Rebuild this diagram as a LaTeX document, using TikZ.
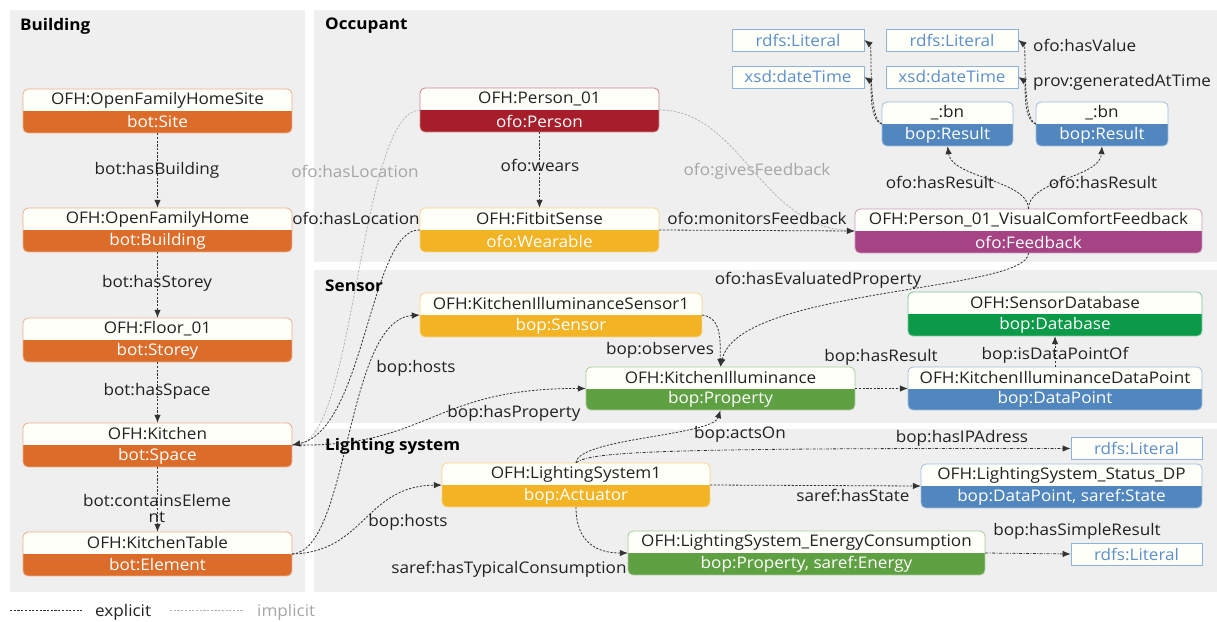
\documentclass[tikz,border=0pt]{standalone}
\usepackage{fontspec}
\setmainfont{Open Sans}[FakeStretch=1.07]
\usetikzlibrary{arrows.meta}
\definecolor{panel}{HTML}{EFEFEF}
\definecolor{topfill}{HTML}{FFFFFA}
\definecolor{botc}{HTML}{DC6C2A}
\definecolor{perc}{HTML}{A61E2A}
\definecolor{yelc}{HTML}{F2B324}
\definecolor{purc}{HTML}{A54385}
\definecolor{propc}{HTML}{5FA043}
\definecolor{dbc}{HTML}{0A9A48}
\definecolor{bluec}{HTML}{5187BE}
\definecolor{littext}{HTML}{5C8FCB}
\definecolor{litborder}{HTML}{8FB4DC}
\definecolor{edgec}{HTML}{333333}
\definecolor{implc}{HTML}{B4B4B4}
\definecolor{impltext}{HTML}{A6A6A6}
\definecolor{txt}{HTML}{222222}
\newcommand{\obox}[8]{%
  \pgfmathsetmacro{\oboxcx}{(#2+#4)/2}%
  \pgfmathsetmacro{\oboxcy}{(#3+#5)/2}%
  \pgfmathsetmacro{\oboxw}{#4-#2}%
  \pgfmathsetmacro{\oboxh}{#5-#3}%
  \node[inner sep=0pt, minimum width=\oboxw pt, minimum height=\oboxh pt] (#1) at (\oboxcx,\oboxcy) {};
  \begin{scope}
    \clip[rounded corners=5pt] (#2,#3) rectangle (#4,#5);
    \fill[topfill] (#2,#3) rectangle (#4,\oboxcy);
    \fill[#6] (#2,\oboxcy) rectangle (#4,#5);
  \end{scope}
  \draw[#6!55!white, rounded corners=5pt, line width=0.8pt] (#2,#3) rectangle (#4,#5);
  \node[toptext] at (\oboxcx,{\oboxcy-11}) {#7};
  \node[bottext] at (\oboxcx,{\oboxcy+11}) {#8};
}
\tikzset{
  toptext/.style={text=txt, font=\fontsize{16}{18}\selectfont, inner sep=0pt},
  bottext/.style={text=white, font=\fontsize{16}{18}\selectfont, inner sep=0pt},
  lit/.style={draw=litborder, fill=topfill, line width=0.8pt, text=littext, font=\fontsize{16}{18}\selectfont, inner sep=0pt},
  lbl/.style={text=txt, font=\fontsize{16}{18}\selectfont, inner sep=1pt},
  glbl/.style={text=impltext, font=\fontsize{16}{18}\selectfont, inner sep=1pt},
  ttl/.style={text=black, font=\fontsize{16}{18}\selectfont\bfseries, anchor=west, inner sep=0pt},
  exp/.style={draw=edgec, line width=0.8pt, dash pattern=on 2.2pt off 1.5pt, -{Latex[length=8pt,width=6.5pt]}},
  impl/.style={draw=implc, line width=0.8pt, dash pattern=on 2.2pt off 1.5pt, -{Latex[length=8pt,width=6.5pt]}},
  dd/.style={draw=edgec, line width=0.8pt, dash pattern=on 3pt off 1.5pt on 0.8pt off 1.5pt, -{Latex[length=8pt,width=6.5pt]}},
}
\begin{document}
\begin{tikzpicture}[x=1pt,y=-1pt]
\useasboundingbox (0,0) rectangle (1217,621);
\fill[white] (0,0) rectangle (1217,621);
% panels
\fill[panel] (10,10) rectangle (305,592);
\fill[panel] (314,10) rectangle (1217,262);
\fill[panel] (314,270) rectangle (1217,423);
\fill[panel] (314,429) rectangle (1217,592);
\node[ttl] (tb) at (20,26) {Building};
\node[ttl] (to) at (325,26) {Occupant};
\node[ttl] (ts) at (325,286) {Sensor};
\node[ttl] (tl) at (325,446) {Lighting system};

% building nodes
\obox{site}{23}{89}{292}{133}{botc}{OFH:OpenFamilyHomeSite}{bot:Site}
\obox{bldg}{23}{208}{292}{252}{botc}{OFH:OpenFamilyHome}{bot:Building}
\obox{floor}{23}{318}{292}{362}{botc}{OFH:Floor\_01}{bot:Storey}
\obox{kitchen}{23}{423}{292}{467}{botc}{OFH:Kitchen}{bot:Space}
\obox{table}{23}{532}{292}{576}{botc}{OFH:KitchenTable}{bot:Element}

% occupant nodes
\obox{person}{420}{88}{659}{132}{perc}{OFH:Person\_01}{ofo:Person}
\obox{fit}{420}{208}{659}{252}{yelc}{OFH:FitbitSense}{ofo:Wearable}
\obox{fb}{855}{209}{1202}{253}{purc}{OFH:Person\_01\_VisualComfortFeedback}{ofo:Feedback}
\obox{bna}{882}{102}{1013}{146}{bluec}{\_:bn}{bop:Result}
\obox{bnb}{1036}{102}{1168}{146}{bluec}{\_:bn}{bop:Result}
\node[lit, minimum width=132pt, minimum height=22pt] (lita) at (798,40) {rdfs:Literal};
\node[lit, minimum width=132pt, minimum height=22pt] (litb) at (952,40) {rdfs:Literal};
\node[lit, minimum width=132pt, minimum height=22pt] (dta) at (798,77) {xsd:dateTime};
\node[lit, minimum width=132pt, minimum height=22pt] (dtb) at (952,77) {xsd:dateTime};

% sensor nodes
\obox{sensor}{420}{293}{702}{337}{yelc}{OFH:KitchenIlluminanceSensor1}{bop:Sensor}
\obox{kill}{586}{367}{855}{410}{propc}{OFH:KitchenIlluminance}{bop:Property}
\obox{db}{908}{292}{1202}{336}{dbc}{OFH:SensorDatabase}{bop:Database}
\obox{dp}{908}{367}{1202}{410}{bluec}{OFH:KitchenIlluminanceDataPoint}{bop:DataPoint}

% lighting nodes
\obox{ls}{442}{463}{710}{507}{yelc}{OFH:LightingSystem1}{bop:Actuator}
\obox{status}{921}{464}{1202}{508}{bluec}{OFH:LightingSystem\_Status\_DP}{bop:DataPoint, saref:State}
\obox{energy}{628}{531}{985}{575}{propc}{OFH:LightingSystem\_EnergyConsumption}{bop:Property, saref:Energy}
\node[lit, minimum width=131pt, minimum height=22pt] (litip) at (1136.5,448.5) {rdfs:Literal};
\node[lit, minimum width=131pt, minimum height=22pt] (litsr) at (1136.5,554) {rdfs:Literal};

% implicit edges
\draw[impl] (person.west) .. controls (360,112) and (355,435) .. (kitchen.east);
\draw[impl] (person.east) .. controls (740,110) and (760,225) .. (fb.west);

% building chain
\draw[exp] (site.south) -- (bldg.north);
\draw[exp] (bldg.south) -- (floor.north);
\draw[exp] (floor.south) -- (kitchen.north);
\draw[exp] (kitchen.south) -- (table.north);

% occupant edges
\draw[exp] (person.south) -- (fit.north);
\draw[exp] (fit.east) -- (fb.west);
\draw[exp] (fit.west) .. controls (370,228) and (365,430) .. (kitchen.east);
\draw[exp] (fb.north) .. controls (1028,180) and (952,178) .. (bna.south);
\draw[exp] (fb.north) .. controls (1028,180) and (1100,178) .. (bnb.south);
\draw[exp] (bna.west) .. controls (868,120) and (872,46) .. (lita.east);
\draw[exp] (bna.west) .. controls (868,120) and (872,82) .. (dta.east);
\draw[exp] (bnb.west) .. controls (1022,120) and (1026,46) .. (litb.east);
\draw[exp] (bnb.west) .. controls (1022,120) and (1026,82) .. (dtb.east);

% sensor edges
\draw[exp] (table.east) .. controls (350,550) and (345,320) .. (sensor.west);
\draw[exp] (kitchen.east) .. controls (430,448) and (430,388) .. (kill.west);
\draw[exp] (sensor.east) .. controls (722,318) and (720,340) .. (kill.north);
\draw[exp] (fb.south) .. controls (1027,292) and (738,288) .. (kill.north);
\draw[exp] (kill.east) -- (dp.west);
\draw[exp] (dp.north) -- (db.south);

% lighting edges
\draw[exp] (table.east) .. controls (365,552) and (365,486) .. (ls.west);
\draw[exp] (ls.north) .. controls (578,438) and (712,436) .. (kill.south);
\draw[dd] (ls.north) .. controls (590,452) and (650,448) .. (litip.west);
\draw[exp] (ls.east) -- (status.west);
\draw[exp] (ls.south) .. controls (576,545) and (600,553) .. (energy.west);
\draw[dd] (energy.east) -- (litsr.west);

% labels
\node[lbl] (l1) at (157,170) {bot:hasBuilding};
\node[lbl] (l2) at (157,283) {bot:hasStorey};
\node[lbl] (l3) at (157,391) {bot:hasSpace};
\node[lbl, align=center] (l4) at (157,508) {bot:containsEleme\\[-2pt]nt};
\node[glbl] (l5) at (355,171) {ofo:hasLocation};
\node[lbl] (l6) at (356,218) {ofo:hasLocation};
\node[lbl] (l7) at (540,165) {ofo:wears};
\node[glbl] (l8) at (757,171) {ofo:givesFeedback};
\node[lbl] (l9) at (757,218) {ofo:monitorsFeedback};
\node[lbl] (l10) at (940,182) {ofo:hasResult};
\node[lbl] (l11) at (1103,182) {ofo:hasResult};
\node[lbl, anchor=west] (l12) at (1032,45) {ofo:hasValue};
\node[lbl, anchor=west] (l13) at (1032,82) {prov:generatedAtTime};
\node[lbl] (l14) at (818,280) {ofo:hasEvaluatedProperty};
\node[lbl] (l15) at (660,350) {bop:observes};
\node[lbl] (l16) at (416,368) {bop:hosts};
\node[lbl] (l17) at (514,413) {bop:hasProperty};
\node[lbl] (l18) at (881,357) {bop:hasResult};
\node[lbl] (l19) at (1055,355) {bop:isDataPointOf};
\node[lbl] (l20) at (740,434) {bop:actsOn};
\node[lbl] (l21) at (962,438) {bop:hasIPAdress};
\node[lbl] (l22) at (853,495) {saref:hasState};
\node[lbl] (l23) at (408,522) {bop:hosts};
\node[lbl] (l24) at (509,569) {saref:hasTypicalConsumption};
\node[lbl] (l25) at (1077,531) {bop:hasSimpleResult};

% legend
\coordinate (lea) at (10,610);
\coordinate (leb) at (82,610);
\coordinate (lga) at (170,610);
\coordinate (lgb) at (243,610);
\draw[edgec, line width=0.8pt, dash pattern=on 2.2pt off 1.5pt] (lea) -- (leb);
\draw[implc, line width=0.8pt, dash pattern=on 2.2pt off 1.5pt] (lga) -- (lgb);
\node[lbl, anchor=west] (lex) at (94,612) {explicit};
\node[glbl, anchor=west] (lim) at (256,612) {implicit};
\end{tikzpicture}
\end{document}
